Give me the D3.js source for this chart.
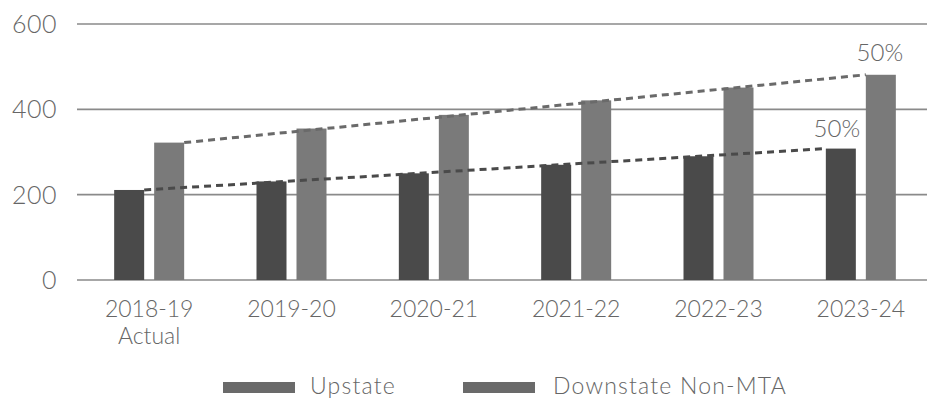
<!DOCTYPE html>
<html>
<head>
<meta charset="utf-8">
<script src="https://cdn.jsdelivr.net/npm/d3@7"></script>
<style>
  html, body { margin: 0; padding: 0; background: #fff; }
  svg { display: block; font-family: Lato, "Open Sans", sans-serif; font-weight: 300; }
</style>
</head>
<body>
<svg id="chart" width="927" height="402"></svg>
<script>
const categories = ["2018-19\nActual", "2019-20", "2020-21", "2021-22", "2022-23", "2023-24"];
const upstate = [211, 231, 250, 270, 290, 308];
const downstate = [322, 355, 387, 421, 451, 481];
const yTicks = [0, 200, 400, 600];
const seriesNames = ["Upstate", "Downstate Non-MTA"];
const growthLabels = ["50%", "50%"];

const W = 927, H = 402;
const margin = { left: 78, right: -5, top: 24, bottom: 122 };
const svg = d3.select("#chart");

const x = d3.scaleBand().domain(categories).range([margin.left, W - margin.right]).padding(0);
const y = d3.scaleLinear().domain([0, 600]).range([H - margin.bottom, margin.top]);

const barW = 30, gap = 10;
const colors = { up: "#4a4a4a", dn: "#7a7a7a" };
const textColor = "#666666";

// gridlines
svg.append("g").selectAll("line").data(yTicks).join("line")
  .attr("x1", margin.left - 1).attr("x2", W)
  .attr("y1", d => y(d)).attr("y2", d => y(d))
  .attr("stroke", "#8a8a8a").attr("stroke-width", 1.6);

// y tick labels
svg.append("g").selectAll("text").data(yTicks).join("text")
  .attr("x", 57).attr("y", d => y(d)).attr("dy", "0.36em")
  .attr("text-anchor", "end").attr("font-size", 25).attr("fill", textColor)
  .attr("letter-spacing", 0.5)
  .text(d => d);

const cx = c => x(c) + x.bandwidth() / 2;
const upX = c => cx(c) - gap / 2 - barW;
const dnX = c => cx(c) + gap / 2;

// bars
svg.append("g").selectAll("rect").data(categories).join("rect")
  .attr("x", d => upX(d)).attr("width", barW)
  .attr("y", (d, i) => y(upstate[i])).attr("height", (d, i) => y(0) - y(upstate[i]))
  .attr("fill", colors.up);
svg.append("g").selectAll("rect").data(categories).join("rect")
  .attr("x", d => dnX(d)).attr("width", barW)
  .attr("y", (d, i) => y(downstate[i])).attr("height", (d, i) => y(0) - y(downstate[i]))
  .attr("fill", colors.dn);

// dashed trend lines
const n = categories.length;
const first = categories[0], last = categories[n - 1];
svg.append("line")
  .attr("x1", upX(first) + barW).attr("y1", y(upstate[0]))
  .attr("x2", upX(last)).attr("y2", y(upstate[n - 1]))
  .attr("stroke", "#4a4a4a").attr("stroke-width", 3).attr("stroke-dasharray", "7,5");
svg.append("line")
  .attr("x1", dnX(first) + barW).attr("y1", y(downstate[0]))
  .attr("x2", dnX(last)).attr("y2", y(downstate[n - 1]))
  .attr("stroke", "#6a6a6a").attr("stroke-width", 3).attr("stroke-dasharray", "7,5");

// growth labels
svg.append("text").attr("x", upX(last) + barW / 2 - 4).attr("y", y(upstate[n - 1]) - 12)
  .attr("text-anchor", "middle").attr("font-size", 24).attr("fill", textColor).text(growthLabels[0]);
svg.append("text").attr("x", dnX(last) + barW / 2 - 1).attr("y", y(downstate[n - 1]) - 14)
  .attr("text-anchor", "middle").attr("font-size", 24).attr("fill", textColor).text(growthLabels[1]);

// x labels
const xl = svg.append("g").selectAll("text").data(categories).join("text")
  .attr("x", d => cx(d)).attr("y", 317)
  .attr("text-anchor", "middle").attr("font-size", 23).attr("fill", textColor);
xl.each(function(d) {
  const lines = d.split("\n");
  d3.select(this).selectAll("tspan").data(lines).join("tspan")
    .attr("x", cx(d)).attr("dy", (l, i) => i === 0 ? 0 : 27).text(l => l);
});

// legend
const legend = [
  { name: seriesNames[0], sx: 223, tx: 310 },
  { name: seriesNames[1], sx: 463, tx: 553 }
];
const lg = svg.append("g");
lg.selectAll("rect").data(legend).join("rect")
  .attr("x", d => d.sx).attr("y", 382).attr("width", 72).attr("height", 11)
  .attr("fill", "#6a6a6a");
lg.selectAll("text").data(legend).join("text")
  .attr("x", d => d.tx).attr("y", 394).attr("font-size", 23).attr("fill", textColor)
  .attr("letter-spacing", 1.2)
  .text(d => d.name);
</script>
</body>
</html>
